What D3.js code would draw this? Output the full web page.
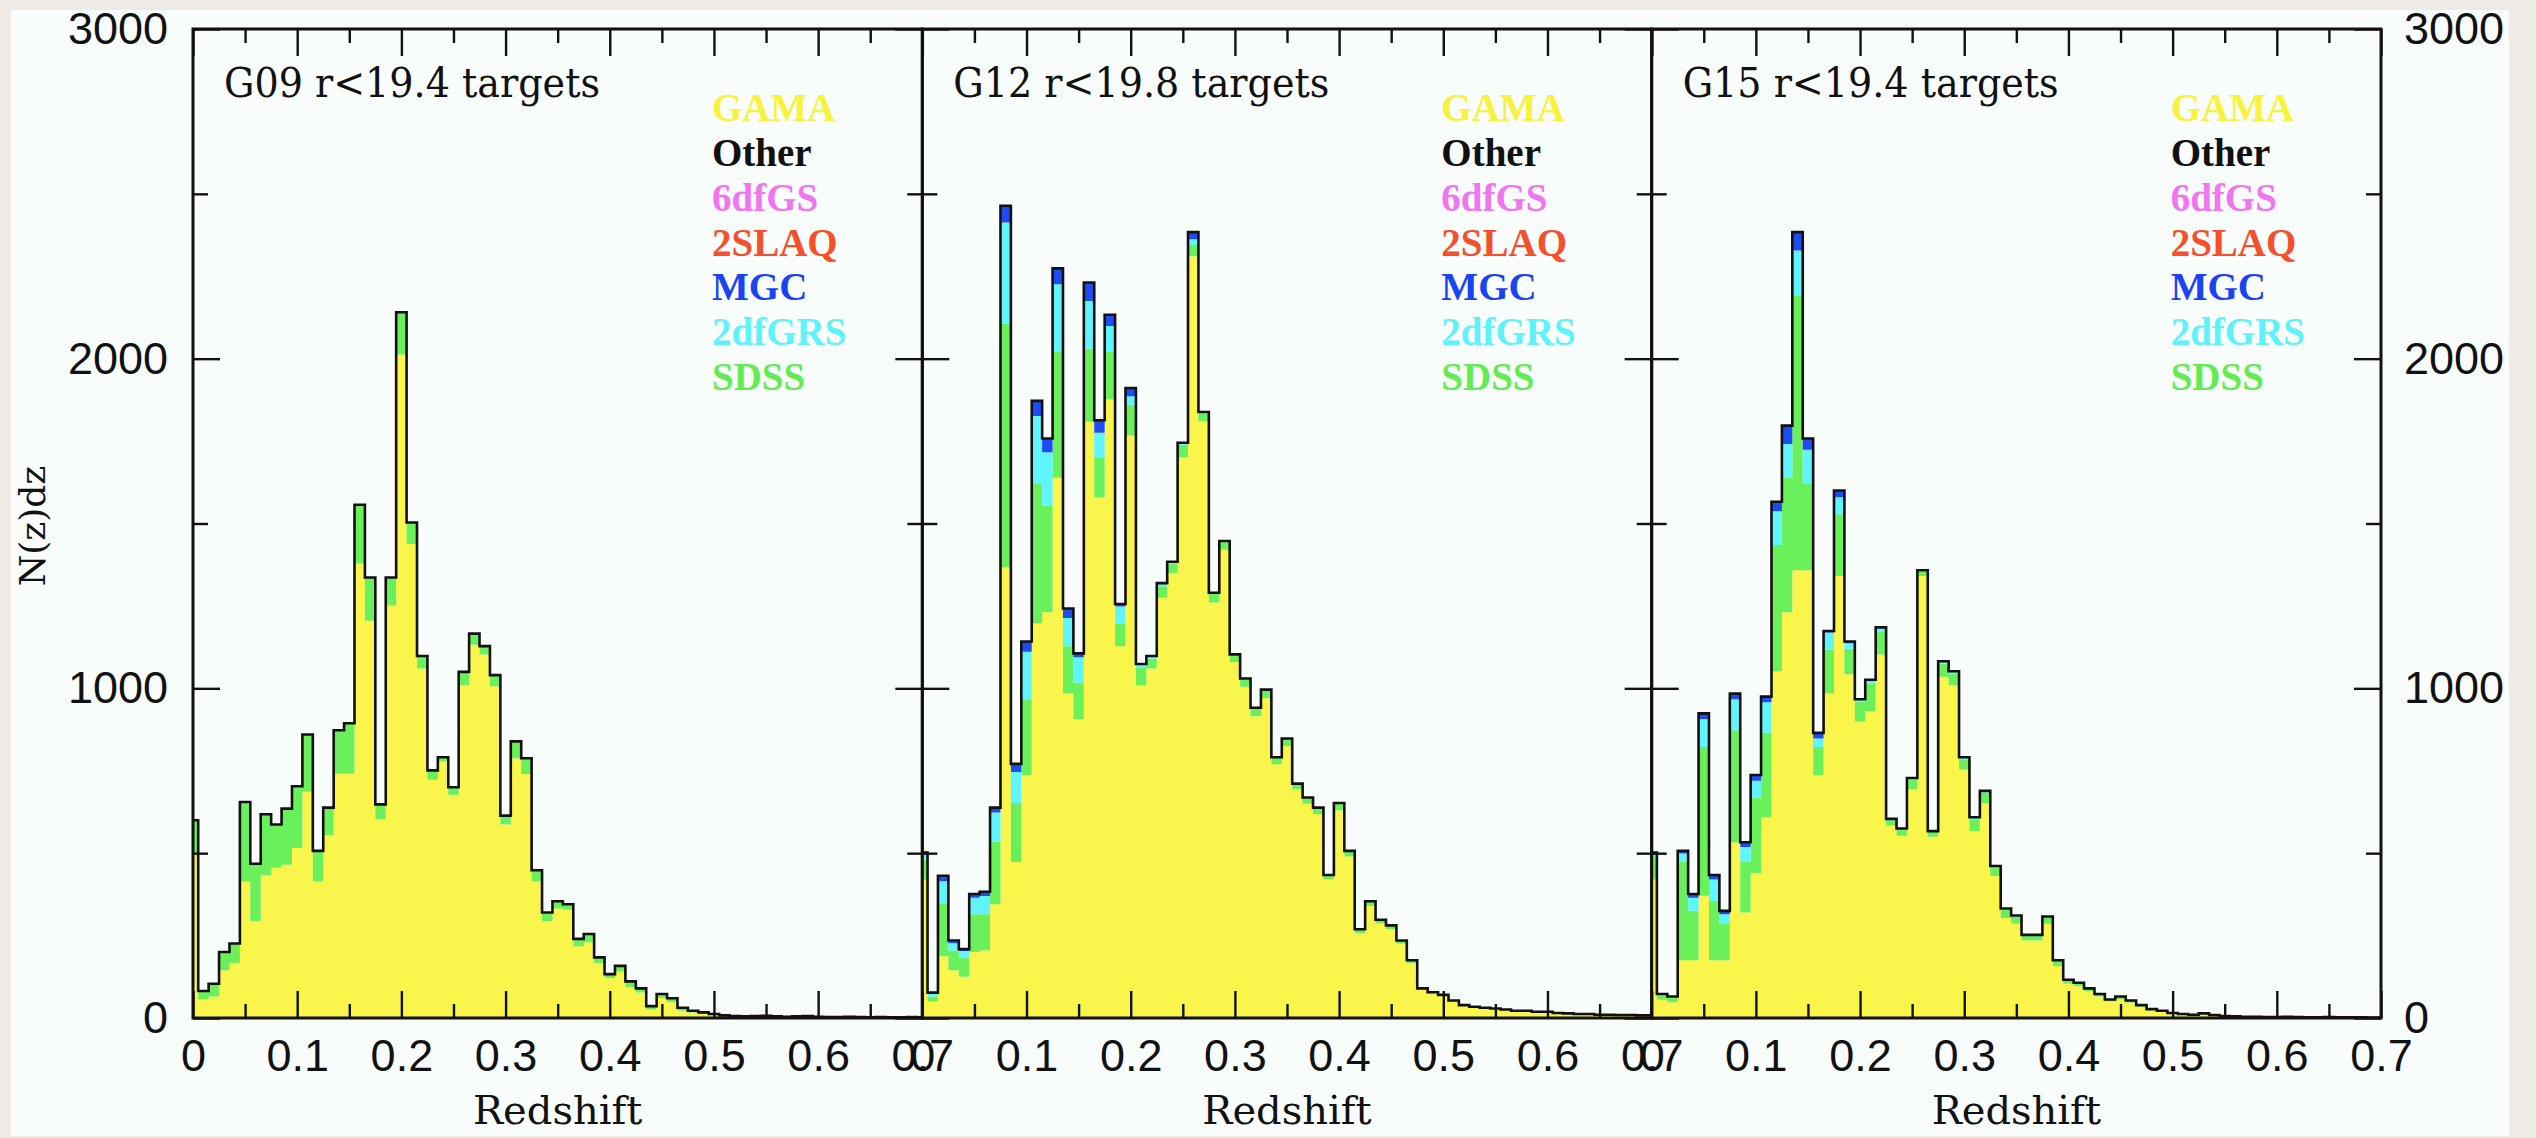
<!DOCTYPE html>
<html>
<head>
<meta charset="utf-8">
<script src="https://cdn.jsdelivr.net/npm/d3@7"></script>
<style>
  html, body { margin: 0; padding: 0; background: #eeebe6; }
  svg { display: block; }
</style>
</head>
<body>
<svg id="chart" width="2536" height="1138"></svg>
<script>
// ---- Redshift bins: 0.01 wide, centred on 0.00 ... 0.70 (end bins are halves) ----
const binWidth = 0.01;
const zMax = 0.7;
const binCentres = d3.range(71).map(k => k / 100);

// ---- Field titles ----
const fieldTitles = ["G09 r<19.4 targets", "G12 r<19.8 targets", "G15 r<19.4 targets"];

// ---- Legend ----
const legendNames   = ["GAMA", "Other", "6dfGS", "2SLAQ", "MGC", "2dfGRS", "SDSS"];
const legendColours = ["#f7f23c", "#111111", "#f274ee", "#f5502c", "#1a44f2", "#5ef2fa", "#62ec52"];

// Stacking order of the filled histograms (bottom to top) and their fills
const stackKeys    = ["GAMA", "SDSS", "2dfGRS", "MGC"];
const stackColours = ["#faf54a", "#6af05a", "#60f4ff", "#1e4cf4"];

// ---- Axis ticks ----
const xMajorTicks = [0, 0.1, 0.2, 0.3, 0.4, 0.5, 0.6, 0.7];
const xMinorTicks = [0.05, 0.15, 0.25, 0.35, 0.45, 0.55, 0.65];
const xTickLabels = ["0", "0.1", "0.2", "0.3", "0.4", "0.5", "0.6", "0.7"];
const yMajorTicks = [0, 1000, 2000, 3000];
const yMinorTicks = [500, 1500, 2500];
const yTickLabels = ["0", "1000", "2000", "3000"];

// ---- G09: N(z)dz per bin ----
const g09Total = [600, 82, 104, 200, 226, 655, 468, 618, 587, 635,
  703, 860, 507, 638, 873, 894, 1557, 1336, 648, 1336,
  2141, 1503, 1098, 751, 791, 700, 1050, 1166, 1128, 1040,
  614, 839, 788, 448, 320, 354, 345, 240, 255, 184,
  133, 158, 111, 90, 36, 73, 60, 31, 22, 17,
  12, 8, 6, 5, 6, 7, 5, 4, 5, 6,
  4, 3, 3, 4, 3, 2, 3, 2, 2, 3, 2];
const g09Gama = [500, 56, 65, 145, 167, 414, 294, 434, 456, 465,
  516, 686, 414, 555, 741, 741, 1379, 1205, 604, 1251,
  2013, 1438, 1060, 723, 779, 677, 1009, 1132, 1103, 1006,
  587, 788, 740, 414, 294, 332, 328, 218, 230, 167,
  121, 141, 94, 77, 26, 61, 48, 22, 17, 12,
  9, 6, 5, 4, 5, 6, 4, 3, 4, 5,
  3, 2, 2, 3, 2, 2, 2, 1, 2, 2, 1];
const g09Sdss = [100, 26, 39, 55, 59, 241, 174, 184, 131, 170,
  187, 174, 93, 83, 132, 153, 178, 131, 44, 85,
  128, 65, 38, 28, 12, 23, 41, 34, 25, 34,
  27, 51, 48, 34, 26, 22, 17, 22, 25, 17,
  12, 17, 17, 13, 10, 12, 12, 9, 5, 5,
  3, 2, 1, 1, 1, 1, 1, 1, 1, 1,
  1, 1, 1, 1, 1, 0, 1, 1, 0, 1, 1];

// ---- G12 ----
const g12Total = [502, 77, 431, 235, 209, 376, 383, 638, 2464, 771,
  1142, 1872, 1758, 2274, 1242, 1106, 2231, 1813, 2133, 1256,
  1911, 1074, 1098, 1319, 1384, 1745, 2384, 1838, 1290, 1447,
  1103, 1030, 941, 996, 791, 848, 711, 669, 638, 434,
  652, 507, 269, 354, 298, 281, 235, 175, 90, 78,
  70, 53, 39, 34, 31, 29, 26, 22, 22, 19,
  19, 15, 14, 12, 12, 10, 10, 9, 9, 8, 8];
const g12Gama = [420, 50, 187, 145, 125, 200, 205, 345, 1367, 473,
  737, 1197, 1231, 1639, 984, 907, 1809, 1579, 1877, 1128,
  1767, 1009, 1060, 1275, 1350, 1700, 2311, 1810, 1260, 1420,
  1080, 1005, 915, 970, 770, 825, 695, 650, 618, 420,
  630, 490, 258, 340, 287, 270, 225, 167, 86, 74,
  67, 51, 37, 32, 29, 27, 24, 21, 21, 18,
  18, 14, 13, 11, 11, 9, 9, 8, 8, 7, 7];
const g12Sdss = [60, 15, 160, 60, 58, 115, 110, 190, 740, 179,
  230, 425, 323, 383, 144, 111, 221, 120, 145, 68,
  93, 55, 30, 35, 28, 38, 34, 24, 26, 24,
  20, 22, 23, 23, 19, 21, 14, 17, 18, 12,
  20, 15, 10, 13, 10, 10, 9, 7, 4, 4,
  3, 2, 2, 2, 2, 2, 2, 1, 1, 1,
  1, 1, 1, 1, 1, 1, 1, 1, 1, 1, 1];
const g12TwoDF = [15, 8, 68, 22, 20, 50, 55, 88, 306, 94,
  144, 204, 162, 204, 85, 76, 145, 76, 77, 52,
  26, 8, 6, 7, 5, 6, 17, 3, 3, 2,
  2, 2, 2, 2, 1, 1, 1, 1, 1, 1,
  1, 1, 0, 1, 1, 1, 1, 1, 0, 0,
  0, 0, 0, 0, 0, 0, 0, 0, 0, 0,
  0, 0, 0, 0, 0, 0, 0, 0, 0, 0, 0];
const g12Mgc = [0, 2, 12, 5, 4, 10, 10, 15, 51, 26,
  31, 46, 42, 48, 29, 12, 56, 37, 34, 8,
  25, 2, 2, 2, 1, 1, 22, 1, 1, 1,
  1, 1, 1, 1, 1, 1, 1, 1, 1, 1,
  1, 1, 1, 0, 0, 0, 0, 0, 0, 0,
  0, 0, 0, 0, 0, 0, 0, 0, 0, 0,
  0, 0, 0, 0, 0, 0, 0, 0, 0, 0, 0];

// ---- G15 ----
const g15Total = [502, 73, 65, 507, 376, 924, 434, 325, 984, 533,
  737, 975, 1566, 1797, 2384, 1758, 865, 1174, 1600, 1142,
  967, 1026, 1185, 604, 575, 728, 1358, 567, 1082, 1052,
  791, 609, 689, 461, 332, 311, 252, 252, 308, 175,
  116, 107, 90, 73, 56, 65, 53, 39, 27, 22,
  15, 12, 10, 14, 9, 6, 5, 4, 4, 3,
  3, 4, 3, 2, 2, 3, 2, 2, 2, 1, 1];
const g15Gama = [420, 55, 48, 175, 175, 371, 175, 175, 533, 320,
  439, 609, 1052, 1231, 1358, 1358, 737, 984, 1341, 1043,
  899, 930, 1103, 584, 553, 694, 1341, 550, 1035, 1009,
  754, 567, 652, 431, 303, 286, 235, 235, 286, 158,
  104, 96, 81, 65, 50, 58, 47, 35, 24, 20,
  13, 11, 9, 12, 8, 5, 4, 3, 3, 2,
  2, 3, 2, 1, 1, 2, 1, 1, 1, 1, 1];
const g15Sdss = [70, 14, 13, 298, 150, 451, 180, 110, 340, 153,
  230, 256, 383, 408, 834, 264, 85, 134, 187, 77,
  60, 85, 70, 16, 18, 28, 13, 14, 40, 36,
  31, 36, 31, 26, 25, 22, 15, 15, 19, 15,
  10, 9, 8, 7, 5, 6, 5, 4, 3, 2,
  2, 1, 1, 2, 1, 1, 1, 1, 1, 1,
  1, 1, 1, 1, 1, 1, 1, 1, 1, 0, 0];
const g15TwoDF = [10, 3, 3, 26, 40, 85, 65, 30, 94, 46,
  51, 93, 102, 102, 136, 102, 26, 51, 52, 17,
  6, 8, 9, 3, 3, 4, 3, 2, 5, 5,
  4, 4, 4, 3, 3, 2, 1, 1, 2, 1,
  1, 1, 1, 1, 1, 1, 1, 0, 0, 0,
  0, 0, 0, 0, 0, 0, 0, 0, 0, 0,
  0, 0, 0, 0, 0, 0, 0, 0, 0, 0, 0];
const g15Mgc = [2, 1, 1, 8, 11, 17, 14, 10, 17, 14,
  17, 17, 29, 56, 56, 34, 17, 5, 20, 5,
  2, 3, 3, 1, 1, 2, 1, 1, 2, 2,
  2, 2, 2, 1, 1, 1, 1, 1, 1, 1,
  1, 1, 0, 0, 0, 0, 0, 0, 0, 0,
  0, 0, 0, 0, 0, 0, 0, 0, 0, 0,
  0, 0, 0, 0, 0, 0, 0, 0, 0, 0, 0];

// Per-field tables handed to d3.stack
const zeros = binCentres.map(() => 0);
const fields = [
  { title: fieldTitles[0], total: g09Total, parts: { "GAMA": g09Gama, "SDSS": g09Sdss, "2dfGRS": zeros, "MGC": zeros } },
  { title: fieldTitles[1], total: g12Total, parts: { "GAMA": g12Gama, "SDSS": g12Sdss, "2dfGRS": g12TwoDF, "MGC": g12Mgc } },
  { title: fieldTitles[2], total: g15Total, parts: { "GAMA": g15Gama, "SDSS": g15Sdss, "2dfGRS": g15TwoDF, "MGC": g15Mgc } }
];

// ---- Layout ----
const W = 2536, H = 1138;
const frame = { left: 11, top: 10, right: 2509, bottom: 1136 };
const plotLeft = 193, plotRight = 2381, plotTop = 29, plotBottom = 1018;
const panelW = (plotRight - plotLeft) / fields.length;

const svg = d3.select("#chart");
svg.append("rect").attr("x", 0).attr("y", 0).attr("width", W).attr("height", H).attr("fill", "#eeebe6");
svg.append("rect")
  .attr("x", frame.left).attr("y", frame.top)
  .attr("width", frame.right - frame.left).attr("height", frame.bottom - frame.top)
  .attr("fill", "#f8fcfa");

const y = d3.scaleLinear().domain([0, 3000]).range([plotBottom, plotTop]);

// Left edge of each bin, clipped to the plotted range
const binLo = binCentres.map(c => Math.max(0, c - binWidth / 2));

const tickFont = "'Liberation Sans', Arial, sans-serif";
const serifFont = "'DejaVu Serif', serif";
const legendFont = "'Liberation Serif', 'Times New Roman', serif";

fields.forEach((field, i) => {
  const x0 = plotLeft + i * panelW;
  const x = d3.scaleLinear().domain([0, zMax]).range([x0, x0 + panelW]);
  const g = svg.append("g").attr("class", "panel");

  // stacked survey contributions
  const rows = binCentres.map((c, k) => {
    const r = { lo: binLo[k] };
    stackKeys.forEach(key => { r[key] = field.parts[key][k]; });
    return r;
  });
  rows.push(Object.assign({}, rows[rows.length - 1], { lo: zMax }));
  const series = d3.stack().keys(stackKeys)(rows);

  const area = d3.area()
    .curve(d3.curveStepAfter)
    .x(d => x(d.data.lo))
    .y0(d => y(d[0]))
    .y1(d => y(d[1]));

  g.selectAll("path.layer")
    .data(series)
    .join("path")
    .attr("class", "layer")
    .attr("d", area)
    .attr("fill", (d, j) => stackColours[j])
    .attr("stroke", "none");

  // histogram outline of all redshifts
  const outlinePts = binLo.map((z, k) => [z, field.total[k]]);
  outlinePts.push([zMax, field.total[field.total.length - 1]]);
  const outline = d3.line().curve(d3.curveStepAfter).x(d => x(d[0])).y(d => y(d[1]));
  g.append("path")
    .attr("d", outline(outlinePts))
    .attr("fill", "none")
    .attr("stroke", "#111")
    .attr("stroke-width", 2.6)
    .attr("stroke-linejoin", "miter");

  // ticks on all four sides, pointing inwards
  const styleAxis = sel => {
    sel.select(".domain").remove();
    sel.selectAll(".tick line").attr("stroke", "#111").attr("stroke-width", 2.4);
    sel.selectAll(".tick text")
      .attr("fill", "#111")
      .style("font-family", tickFont)
      .style("font-size", "45px");
  };

  g.append("g").attr("transform", `translate(0,${plotBottom})`)
    .call(d3.axisBottom(x).tickValues(xMajorTicks).tickSizeInner(-27).tickSizeOuter(0)
      .tickPadding(21).tickFormat((d, j) => xTickLabels[j]))
    .call(styleAxis);
  g.append("g").attr("transform", `translate(0,${plotBottom})`)
    .call(d3.axisBottom(x).tickValues(xMinorTicks).tickSizeInner(-14).tickSizeOuter(0).tickFormat(""))
    .call(styleAxis);
  g.append("g").attr("transform", `translate(0,${plotTop})`)
    .call(d3.axisTop(x).tickValues(xMajorTicks).tickSizeInner(-27).tickSizeOuter(0).tickFormat(""))
    .call(styleAxis);
  g.append("g").attr("transform", `translate(0,${plotTop})`)
    .call(d3.axisTop(x).tickValues(xMinorTicks).tickSizeInner(-14).tickSizeOuter(0).tickFormat(""))
    .call(styleAxis);

  const showLeft = i === 0, showRight = i === fields.length - 1;
  g.append("g").attr("transform", `translate(${x0},0)`)
    .call(d3.axisLeft(y).tickValues(yMajorTicks).tickSizeInner(-27).tickSizeOuter(0)
      .tickPadding(25).tickFormat((d, j) => showLeft ? yTickLabels[j] : ""))
    .call(styleAxis);
  g.append("g").attr("transform", `translate(${x0},0)`)
    .call(d3.axisLeft(y).tickValues(yMinorTicks).tickSizeInner(-15).tickSizeOuter(0).tickFormat(""))
    .call(styleAxis);
  g.append("g").attr("transform", `translate(${x0 + panelW},0)`)
    .call(d3.axisRight(y).tickValues(yMajorTicks).tickSizeInner(-27).tickSizeOuter(0)
      .tickPadding(23).tickFormat((d, j) => showRight ? yTickLabels[j] : ""))
    .call(styleAxis);
  g.append("g").attr("transform", `translate(${x0 + panelW},0)`)
    .call(d3.axisRight(y).tickValues(yMinorTicks).tickSizeInner(-15).tickSizeOuter(0).tickFormat(""))
    .call(styleAxis);

  // panel frame
  g.append("rect")
    .attr("x", x0).attr("y", plotTop)
    .attr("width", panelW).attr("height", plotBottom - plotTop)
    .attr("fill", "none").attr("stroke", "#111").attr("stroke-width", 3);

  // field title
  g.append("text")
    .attr("x", x0 + 31).attr("y", 97)
    .attr("textLength", 376).attr("lengthAdjust", "spacingAndGlyphs")
    .style("font-family", serifFont).style("font-size", "41px")
    .attr("fill", "#111")
    .text(field.title);

  // legend
  const legendY = d3.scalePoint().domain(legendNames).range([121, 390]);
  g.selectAll("text.legend")
    .data(legendNames)
    .join("text")
    .attr("class", "legend")
    .attr("x", x0 + 519)
    .attr("y", d => legendY(d))
    .style("font-family", legendFont).style("font-size", "39px").style("font-weight", "bold")
    .attr("fill", (d, j) => legendColours[j])
    .text(d => d);

  // x-axis title
  g.append("text")
    .attr("x", x0 + panelW / 2).attr("y", 1124)
    .attr("text-anchor", "middle")
    .style("font-family", serifFont).style("font-size", "40px")
    .attr("fill", "#111")
    .text("Redshift");
});

// y-axis title
svg.append("text")
  .attr("transform", "translate(45,526) rotate(-90)")
  .attr("text-anchor", "middle")
  .style("font-family", serifFont).style("font-size", "36px")
  .attr("fill", "#111")
  .text("N(z)dz");
</script>
</body>
</html>
